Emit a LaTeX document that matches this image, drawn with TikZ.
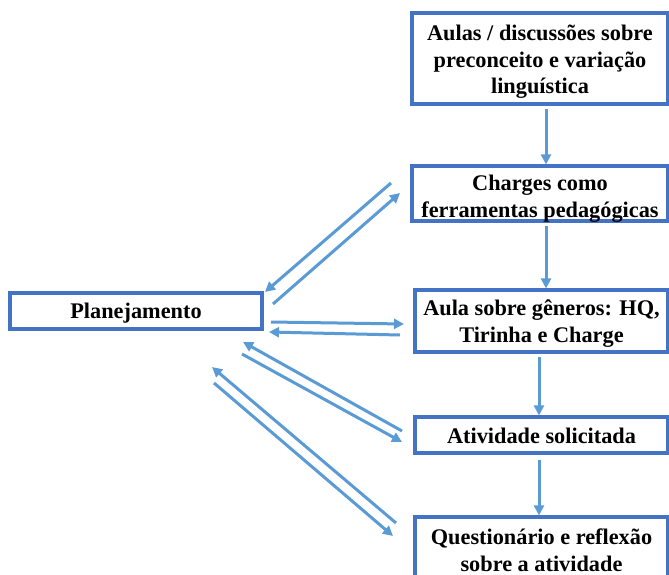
\documentclass[tikz,border=0pt]{standalone}
\usepackage{fontspec}
\setmainfont{Liberation Serif}
\usetikzlibrary{arrows.meta}
\definecolor{boxblue}{HTML}{4472C4}
\definecolor{arrblue}{HTML}{5B9BD5}
\tikzset{
  stagebox/.style={draw=boxblue, line width=3.2pt, fill=white, inner sep=0pt},
  boxtext/.style={inner sep=0pt, align=center,
    font=\fontsize{22.3}{26.5}\selectfont\bfseries},
  arr/.style={draw=arrblue, line width=3pt, -{Triangle[length=10pt,width=10pt]}},
}
\begin{document}
\begin{tikzpicture}[x=1pt,y=-1pt]
\useasboundingbox (0,0) rectangle (669,575);
\clip (0,0) rectangle (669,575);
\fill[white] (0,0) rectangle (669,575);

\node[stagebox, minimum width=256pt, minimum height=91pt] (b1) at (540,58.5) {};
\node[stagebox, minimum width=256pt, minimum height=55pt] (b2) at (540,193.5) {};
\node[stagebox, minimum width=253pt, minimum height=62pt] (b3) at (541.5,321) {};
\node[stagebox, minimum width=253pt, minimum height=36pt] (b4) at (541.5,435) {};
\node[stagebox, minimum width=253pt, minimum height=70pt] (b5) at (541.5,552) {};
\node[stagebox, minimum width=252pt, minimum height=36pt] (plan) at (136,311) {};

\node[boxtext] (t1) at ([yshift=-3.5pt]b1.center) {Aulas / discussões sobre\\preconceito e variação\\linguística};
\node[boxtext] (t2) at ([yshift=-5pt]b2.center) {Charges como\\ferramentas pedagógicas};
\node[boxtext] (t3) at ([yshift=-2.5pt]b3.center) {Aula sobre gêneros: HQ,\\Tirinha e Charge};
\node[boxtext] (t4) at ([yshift=-1pt]b4.center) {Atividade solicitada};
\node[boxtext] (t5) at ([yshift=1.5pt]b5.center) {Questionário e reflexão\\sobre a atividade};
\node[boxtext] (tp) at ([yshift=-2pt]plan.center) {Planejamento};

% vertical flow
\draw[arr, shorten <=3pt] ([xshift=6pt]b1.south) -- ([xshift=6pt]b2.north);
\draw[arr, shorten <=3pt] ([xshift=6pt]b2.south) -- ([xshift=4.5pt]b3.north);
\draw[arr, shorten <=3pt] ([xshift=-2.5pt]b3.south) -- ([xshift=-2.5pt]b4.north);
\draw[arr, shorten <=5pt] ([xshift=-2.5pt]b4.south) -- ([xshift=-2.5pt]b5.north);

% end points of the paired connectors
\coordinate (a1s) at (391,183); \coordinate (a1e) at (265,292);
\coordinate (a2s) at (273,304); \coordinate (a2e) at (400,193);
\coordinate (h1s) at (271,322); \coordinate (h1e) at (404,324);
\coordinate (h2s) at (400,335); \coordinate (h2e) at (269,332);
\coordinate (d1s) at (402,431); \coordinate (d1e) at (243,342);
\coordinate (d2s) at (242,354); \coordinate (d2e) at (402,442);
\coordinate (d3s) at (396,523); \coordinate (d3e) at (212,367);
\coordinate (d4s) at (214,383); \coordinate (d4e) at (393,536);

\draw[arr] (a1s) -- (a1e);
\draw[arr] (a2s) -- (a2e);
\draw[arr] (h1s) -- (h1e);
\draw[arr] (h2s) -- (h2e);
\draw[arr] (d1s) -- (d1e);
\draw[arr] (d2s) -- (d2e);
\draw[arr] (d3s) -- (d3e);
\draw[arr] (d4s) -- (d4e);
\end{tikzpicture}
\end{document}
